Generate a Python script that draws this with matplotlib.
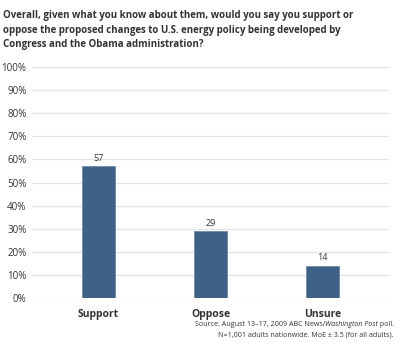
import matplotlib
matplotlib.use("Agg")
import matplotlib.pyplot as plt
import numpy as np

# Data
categories = ["Support", "Oppose", "Unsure"]
values = [57, 29, 14]
y_ticks = list(range(0, 101, 10))

title = ("Overall, given what you know about them, would you say you support or\n"
         "oppose the proposed changes to U.S. energy policy being developed by\n"
         "Congress and the Obama administration?")

BAR_COLOR = "#3f6189"
TEXT_COLOR = "#333333"
FONT = "Open Sans"

plt.rcParams["font.family"] = [FONT, "DejaVu Sans"]

fig = plt.figure(figsize=(4.0, 3.58), dpi=100)
ax = fig.add_axes([0.08, 0.1676, 0.8925, 0.6452])

x = np.arange(len(categories))
ax.bar(x, values, width=0.29, color=BAR_COLOR, edgecolor="#6f8aa8", linewidth=0.6, zorder=3)
for xi, v in zip(x, values):
    ax.text(xi, v + 1.5, str(v), ha="center", va="bottom", fontsize=6.5,
            color=TEXT_COLOR, zorder=4)

ax.set_xlim(-0.59, 2.59)
ax.set_ylim(0, 100)
ax.set_yticks(y_ticks)
ax.set_yticklabels([f"{t}%" for t in y_ticks], fontsize=7, color=TEXT_COLOR)
ax.set_xticks(x)
ax.set_xticklabels(categories, fontsize=7.5, fontweight="bold", color=TEXT_COLOR)
ax.tick_params(axis="both", length=0, pad=4)
ax.tick_params(axis="x", pad=8)
ax.yaxis.grid(True, color="#e3e3e3", linewidth=0.9, zorder=0)
for s in ax.spines.values():
    s.set_visible(False)

fig.text(0.008, 0.972, title, ha="left", va="top", fontsize=7.0,
         fontweight="bold", color=TEXT_COLOR, linespacing=1.45)

# Source note, right aligned, with italic publication name
fig.canvas.draw()
r = fig.canvas.get_renderer()
inv = fig.transFigure.inverted()
right = 0.985
y1 = 0.088
pieces = [(" poll.", "normal"), ("Washington Post", "italic"),
          ("Source: August 13\u201317, 2009 ABC News/", "normal")]
xr = right
for txt, style in pieces:
    t = fig.text(xr, y1, txt, ha="right", va="baseline", fontsize=5.1,
                 style=style, color=TEXT_COLOR)
    bb = t.get_window_extent(r)
    xr = inv.transform((bb.x0, bb.y0))[0]
fig.text(right, y1 - 0.029, "N=1,001 adults nationwide. MoE \u00b1 3.5 (for all adults).",
         ha="right", va="baseline", fontsize=5.1, color=TEXT_COLOR)

fig.savefig("out.png", dpi=100, facecolor="white")
